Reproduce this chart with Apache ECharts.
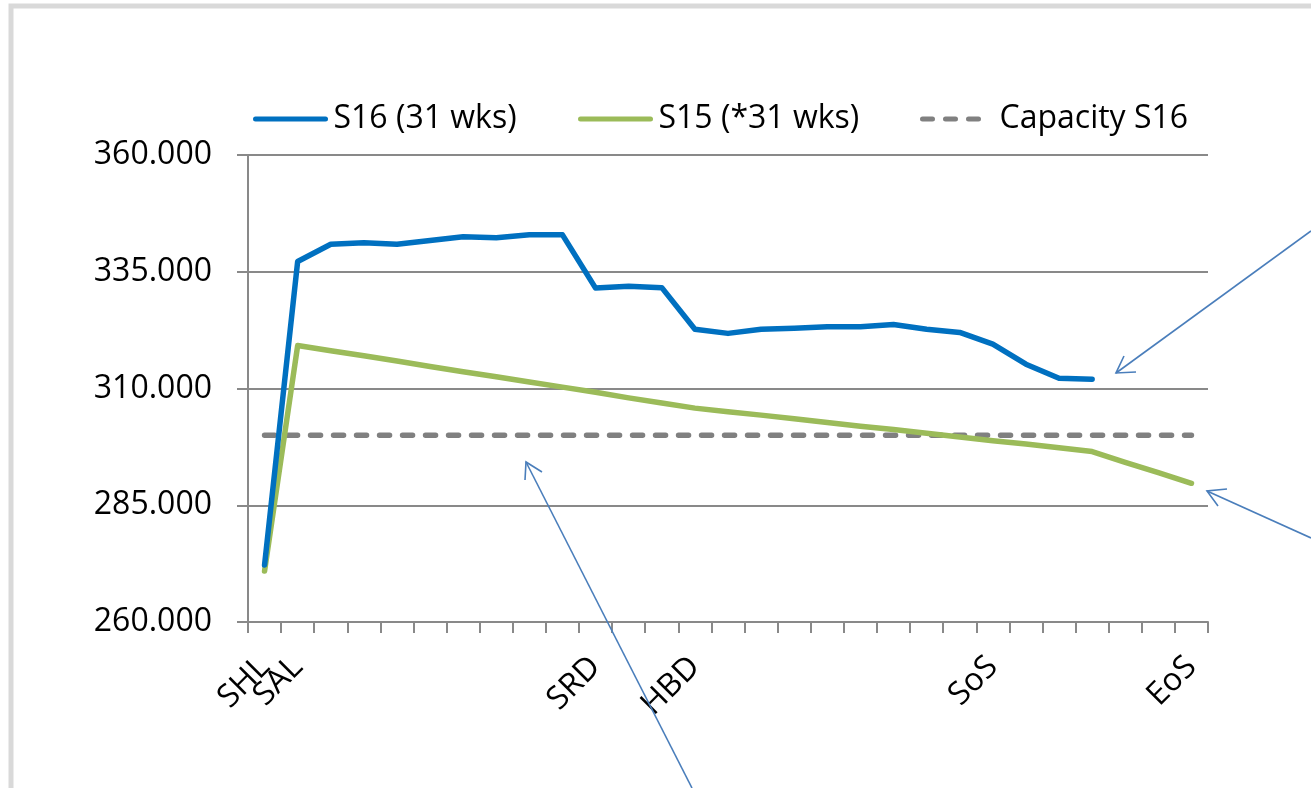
<!DOCTYPE html>
<html>
<head>
<meta charset="utf-8">
<script src="https://cdn.jsdelivr.net/npm/echarts@6/dist/echarts.min.js"></script>
<style>
  html, body { margin: 0; padding: 0; background: #fff; }
  #chart { width: 1311px; height: 788px; }
</style>
</head>
<body>
<div id="chart"></div>
<script>
// weeks of the season, only a few carry a label
const weeks = ["w0","w1","w2","w3","w4","w5","w6","w7","w8","w9","w10","w11","w12","w13","w14",
  "w15","w16","w17","w18","w19","w20","w21","w22","w23","w24","w25","w26","w27","w28"];
const tickLabels = ["SHL","SAL","","","","","","","","","SRD","","","HBD","",
  "","","","","","","","SoS","","","","","","EoS"];

const s16 = [272.2, 337.2, 340.9, 341.2, 340.9, 341.7, 342.5, 342.3, 342.9, 342.9,
  331.5, 331.9, 331.6, 322.7, 321.8, 322.7, 322.9, 323.2, 323.2, 323.7,
  322.7, 322.0, 319.5, 315.2, 312.2, 312.0, null, null, null];
const s15 = [270.9, 319.2, 318.1, 317.0, 315.9, 314.7, 313.6, 312.5, 311.4, 310.3,
  309.2, 308.0, 306.9, 305.8, 305.0, 304.3, 303.5, 302.7, 301.9, 301.2,
  300.4, 299.6, 298.8, 298.1, 297.3, 296.5, 294.2, 292.0, 289.7];
const capacity = [300, 300, 300, 300, 300, 300, 300, 300, 300, 300,
  300, 300, 300, 300, 300, 300, 300, 300, 300, 300,
  300, 300, 300, 300, 300, 300, 300, 300, 300];

const FONT = "Open Sans";
const AXIS_GRAY = "#898989";
const ARROW = "#4a7ebb";

const chart = echarts.init(document.getElementById("chart"));

// little helper for the hand drawn arrows
function arrow(shaft, head) {
  return [
    { type: "polyline", z: 100, shape: { points: shaft }, style: { stroke: ARROW, lineWidth: 1.6, fill: null } },
    { type: "polyline", z: 100, shape: { points: head }, style: { stroke: ARROW, lineWidth: 1.6, fill: null } },
  ];
}

const legendBase = {
  top: 103,
  padding: 0,
  itemWidth: 70,
  itemHeight: 14,
  itemStyle: { opacity: 0 },
  lineStyle: { width: 5, cap: "round" },
  textStyle: { fontFamily: FONT, fontSize: 32, color: "#000", padding: [0, 0, 0, 3] },
};

chart.setOption({
  backgroundColor: "#fff",
  animation: false,
  grid: { left: 248, right: 103, top: 155, bottom: 166 },
  legend: [
    { ...legendBase, data: ["S16 (31 wks)"], left: 253 },
    { ...legendBase, data: ["S15 (*31 wks)"], left: 578 },
    {
      ...legendBase,
      data: ["Capacity S16"],
      left: 920,
      itemWidth: 60,
      textStyle: { ...legendBase.textStyle, padding: [0, 0, 0, 12] },
    },
  ],
  xAxis: {
    type: "category",
    data: weeks,
    boundaryGap: true,
    axisLine: { lineStyle: { color: AXIS_GRAY, width: 2 } },
    axisTick: { show: true, interval: 0, length: 11, lineStyle: { color: AXIS_GRAY, width: 2 } },
    axisLabel: {
      interval: 0,
      rotate: 45,
      margin: 40,
      hideOverlap: false,
      fontFamily: FONT,
      fontSize: 32,
      color: "#000",
      formatter: (v, i) => tickLabels[i],
    },
    splitLine: { show: false },
  },
  yAxis: {
    type: "value",
    min: 260,
    max: 360,
    interval: 25,
    axisLine: { show: true, lineStyle: { color: AXIS_GRAY, width: 2 } },
    axisTick: { show: true, length: 11, lineStyle: { color: AXIS_GRAY, width: 2 } },
    axisLabel: {
      margin: 36,
      fontFamily: FONT,
      fontSize: 32,
      color: "#000",
      formatter: (v) => v.toFixed(3),
    },
    splitLine: { show: true, lineStyle: { color: AXIS_GRAY, width: 2 } },
  },
  series: [
    {
      name: "S16 (31 wks)",
      type: "line",
      data: s16,
      symbol: "none",
      connectNulls: false,
      z: 4,
      lineStyle: { color: "#0070c0", width: 5.5, cap: "round", join: "round" },
      itemStyle: { color: "#0070c0" },
    },
    {
      name: "S15 (*31 wks)",
      type: "line",
      data: s15,
      symbol: "none",
      z: 3,
      lineStyle: { color: "#9bbb59", width: 5.5, cap: "round", join: "round" },
      itemStyle: { color: "#9bbb59" },
    },
    {
      name: "Capacity S16",
      type: "line",
      data: capacity,
      symbol: "none",
      z: 2,
      lineStyle: { color: "#808080", width: 5.5, type: [10, 13], cap: "round" },
      itemStyle: { color: "#808080" },
    },
  ],
  graphic: [
    {
      type: "rect",
      z: 100,
      shape: { x: 11, y: 6, width: 1400, height: 900 },
      style: { fill: null, stroke: "#d9d9d9", lineWidth: 5 },
    },
    ...arrow([[1311, 231], [1116, 373]], [[1124, 356], [1116, 373], [1136, 372]]),
    ...arrow([[1311, 538], [1207, 491]], [[1227, 489], [1207, 491], [1218, 506]]),
    ...arrow([[692, 788], [526, 462]], [[525, 480], [526, 462], [542, 472]]),
  ],
});
</script>
</body>
</html>
